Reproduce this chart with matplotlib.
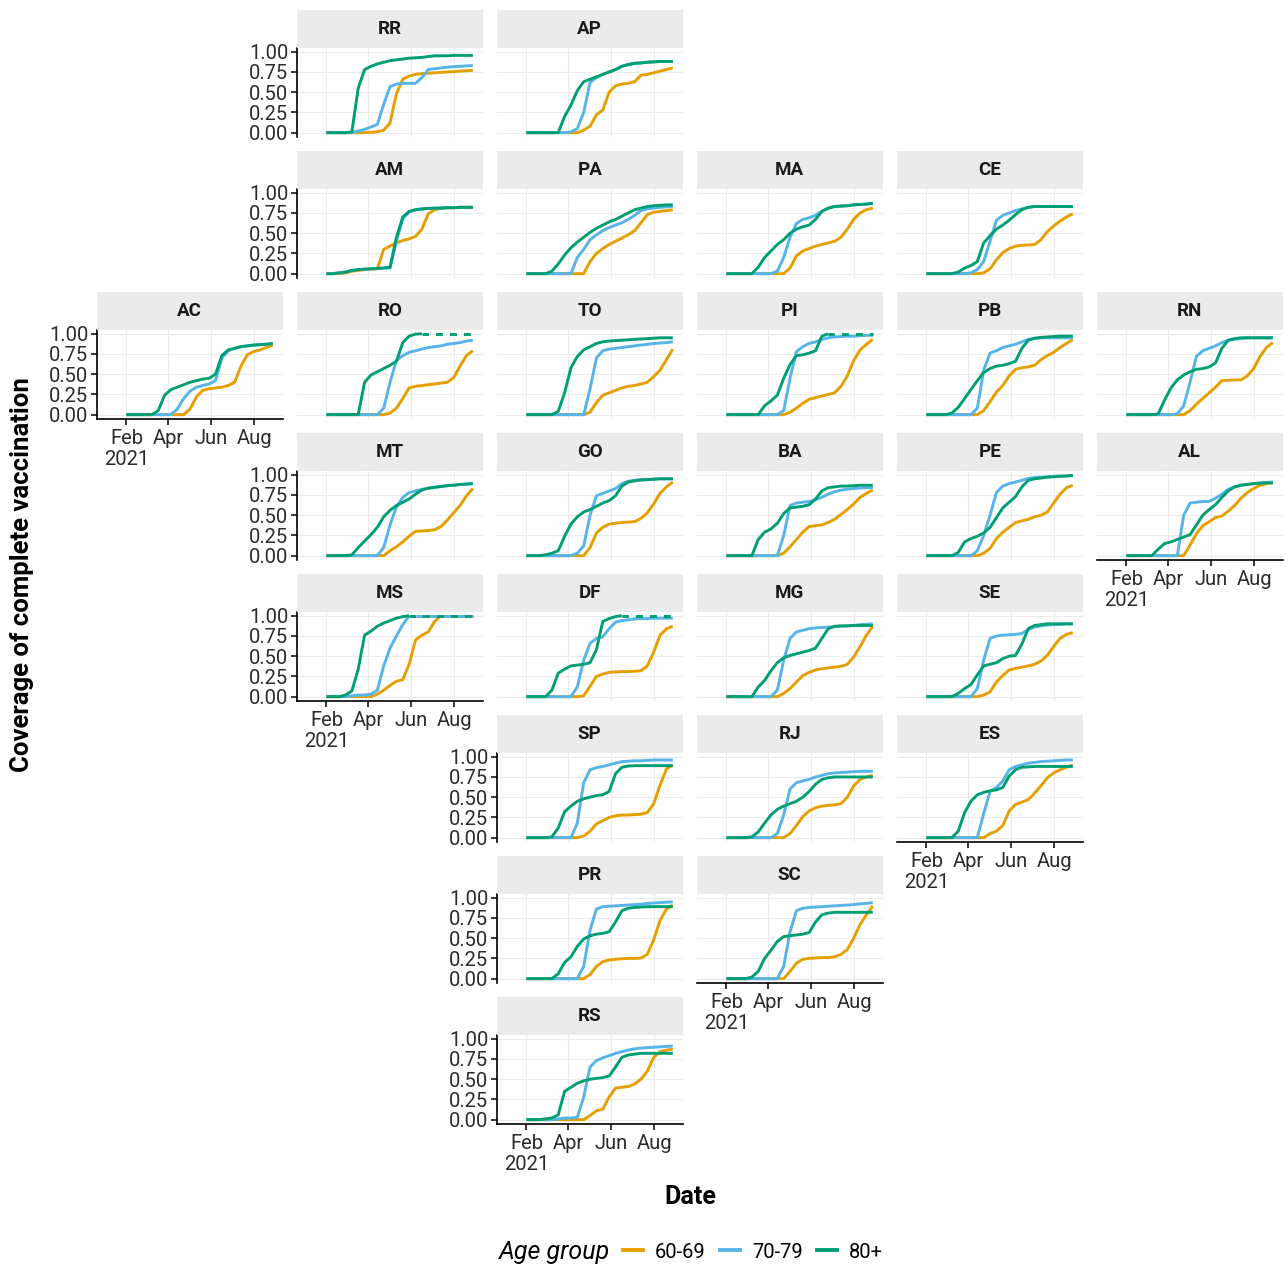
import numpy as np
import matplotlib
matplotlib.use("Agg")
import matplotlib.pyplot as plt
from matplotlib.lines import Line2D

plt.rcParams['font.family'] = ['Roboto', 'DejaVu Sans']

# sampling dates (every 9 days from 1 Feb 2021)
startDate = np.datetime64("2021-02-01")
dayOffsets = np.arange(0, 208, 9)
dates = startDate + dayOffsets.astype("timedelta64[D]")

ageGroups = ["60-69", "70-79", "80+"]
ageColors = ["#E69F00", "#56B4E9", "#009E73"]

cov60 = {
  "RR": [0,0,0,0,0,0,0,0.005,0.01,0.03,0.12,0.48,0.66,0.70,0.72,0.73,0.735,0.74,0.745,0.75,0.755,0.76,0.765,0.77],
  "AP": [0,0,0,0,0,0,0,0,0,0.03,0.08,0.22,0.28,0.50,0.58,0.60,0.61,0.63,0.71,0.72,0.74,0.76,0.78,0.80],
  "AM": [0,0,0,0.01,0.03,0.04,0.05,0.055,0.06,0.30,0.34,0.38,0.41,0.43,0.46,0.55,0.74,0.79,0.81,0.815,0.815,0.82,0.82,0.82],
  "PA": [0,0,0,0,0,0,0,0,0,0,0.15,0.25,0.31,0.36,0.40,0.44,0.48,0.53,0.63,0.73,0.76,0.77,0.78,0.79],
  "MA": [0,0,0,0,0,0,0,0,0,0,0.07,0.22,0.28,0.31,0.34,0.36,0.38,0.40,0.45,0.55,0.67,0.75,0.79,0.81],
  "CE": [0,0,0,0,0,0,0,0,0,0.01,0.06,0.17,0.26,0.31,0.34,0.35,0.355,0.36,0.42,0.52,0.59,0.65,0.70,0.74],
  "AC": [0,0,0,0,0,0,0,0,0,0,0.07,0.22,0.30,0.32,0.33,0.34,0.36,0.40,0.60,0.74,0.78,0.80,0.83,0.86],
  "RO": [0,0,0,0,0,0,0,0,0,0,0.02,0.08,0.20,0.33,0.35,0.36,0.37,0.38,0.39,0.40,0.46,0.60,0.73,0.79],
  "TO": [0,0,0,0,0,0,0,0,0,0,0.03,0.15,0.24,0.27,0.30,0.33,0.35,0.36,0.38,0.40,0.47,0.55,0.68,0.81],
  "PI": [0,0,0,0,0,0,0,0,0,0,0.03,0.08,0.14,0.19,0.21,0.23,0.25,0.27,0.35,0.48,0.67,0.80,0.87,0.93],
  "PB": [0,0,0,0,0,0,0,0,0,0.05,0.16,0.28,0.36,0.48,0.56,0.58,0.59,0.61,0.68,0.73,0.77,0.83,0.88,0.93],
  "RN": [0,0,0,0,0,0,0,0,0,0,0.05,0.13,0.20,0.27,0.34,0.42,0.425,0.43,0.43,0.48,0.57,0.72,0.83,0.89],
  "MT": [0,0,0,0,0,0,0,0,0,0,0.06,0.11,0.17,0.24,0.30,0.305,0.31,0.32,0.36,0.44,0.53,0.62,0.74,0.83],
  "GO": [0,0,0,0,0,0,0,0,0,0,0.10,0.28,0.35,0.39,0.40,0.41,0.415,0.42,0.46,0.53,0.64,0.77,0.85,0.91],
  "BA": [0,0,0,0,0,0,0,0,0,0.03,0.11,0.20,0.29,0.36,0.37,0.38,0.41,0.45,0.51,0.57,0.64,0.72,0.77,0.81],
  "PE": [0,0,0,0,0,0,0,0,0,0.03,0.09,0.21,0.29,0.35,0.41,0.43,0.45,0.48,0.50,0.54,0.65,0.76,0.84,0.87],
  "AL": [0,0,0,0,0,0,0,0,0,0,0.13,0.27,0.37,0.42,0.47,0.49,0.55,0.62,0.71,0.78,0.83,0.87,0.89,0.90],
  "MS": [0,0,0,0,0,0,0,0,0.03,0.08,0.14,0.19,0.21,0.40,0.70,0.76,0.80,0.93,1,1,1,1,1,1],
  "DF": [0,0,0,0,0,0,0,0,0,0.01,0.13,0.25,0.28,0.30,0.305,0.31,0.31,0.315,0.32,0.38,0.55,0.76,0.84,0.87],
  "MG": [0,0,0,0,0,0,0,0,0,0.04,0.10,0.18,0.26,0.30,0.33,0.345,0.355,0.365,0.375,0.40,0.49,0.62,0.76,0.87],
  "SE": [0,0,0,0,0,0,0,0,0,0.02,0.06,0.18,0.26,0.33,0.35,0.365,0.38,0.40,0.44,0.51,0.62,0.72,0.77,0.79],
  "SP": [0,0,0,0,0,0,0,0,0,0.02,0.08,0.17,0.21,0.25,0.27,0.28,0.28,0.285,0.29,0.31,0.42,0.65,0.85,0.90],
  "RJ": [0,0,0,0,0,0,0,0,0,0,0.05,0.15,0.26,0.33,0.37,0.39,0.40,0.405,0.42,0.50,0.64,0.72,0.75,0.77],
  "ES": [0,0,0,0,0,0,0,0,0,0,0.05,0.08,0.15,0.33,0.41,0.44,0.47,0.55,0.64,0.74,0.80,0.84,0.87,0.90],
  "PR": [0,0,0,0,0,0,0,0,0,0,0.05,0.15,0.21,0.23,0.24,0.245,0.25,0.25,0.255,0.30,0.48,0.72,0.86,0.91],
  "SC": [0,0,0,0,0,0,0,0,0,0,0.09,0.19,0.24,0.25,0.255,0.26,0.26,0.27,0.30,0.36,0.50,0.67,0.79,0.90],
  "RS": [0,0,0,0,0,0,0,0,0,0,0.05,0.11,0.13,0.28,0.39,0.40,0.41,0.44,0.50,0.60,0.77,0.84,0.86,0.87],
}

cov70 = {
  "RR": [0,0,0,0,0,0.02,0.04,0.07,0.10,0.35,0.57,0.60,0.61,0.61,0.61,0.68,0.78,0.79,0.80,0.81,0.815,0.82,0.825,0.83],
  "AP": [0,0,0,0,0,0,0,0.01,0.05,0.25,0.62,0.68,0.72,0.75,0.78,0.82,0.845,0.86,0.865,0.87,0.875,0.88,0.88,0.88],
  "AM": [0,0,0.01,0.02,0.04,0.05,0.055,0.06,0.065,0.07,0.07,0.40,0.68,0.76,0.79,0.80,0.805,0.81,0.81,0.815,0.815,0.82,0.82,0.82],
  "PA": [0,0,0,0,0,0,0,0,0.20,0.30,0.42,0.48,0.53,0.57,0.60,0.63,0.67,0.72,0.78,0.80,0.81,0.82,0.825,0.83],
  "MA": [0,0,0,0,0,0,0,0,0.03,0.20,0.45,0.62,0.67,0.69,0.72,0.77,0.81,0.83,0.835,0.84,0.85,0.855,0.86,0.87],
  "CE": [0,0,0,0,0,0,0,0.01,0.05,0.15,0.40,0.66,0.72,0.75,0.78,0.80,0.82,0.83,0.83,0.83,0.83,0.83,0.83,0.83],
  "AC": [0,0,0,0,0,0,0,0,0.07,0.20,0.29,0.34,0.36,0.38,0.42,0.70,0.79,0.82,0.84,0.85,0.86,0.865,0.87,0.88],
  "RO": [0,0,0,0,0,0,0,0,0,0.08,0.40,0.67,0.73,0.77,0.79,0.81,0.83,0.84,0.85,0.87,0.88,0.89,0.91,0.92],
  "TO": [0,0,0,0,0,0,0,0,0,0,0.32,0.70,0.79,0.81,0.82,0.83,0.84,0.85,0.86,0.87,0.88,0.885,0.89,0.90],
  "PI": [0,0,0,0,0,0,0,0,0,0.05,0.45,0.78,0.84,0.88,0.90,0.93,0.95,0.96,0.965,0.97,0.97,0.975,0.98,0.98],
  "PB": [0,0,0,0,0,0,0,0,0.08,0.55,0.76,0.79,0.83,0.85,0.87,0.90,0.93,0.94,0.95,0.95,0.95,0.95,0.95,0.95],
  "RN": [0,0,0,0,0,0,0,0,0.01,0.11,0.40,0.72,0.79,0.82,0.85,0.89,0.92,0.93,0.94,0.95,0.95,0.95,0.95,0.95],
  "MT": [0,0,0,0,0,0,0,0,0,0.10,0.38,0.60,0.72,0.78,0.80,0.82,0.83,0.845,0.855,0.865,0.87,0.88,0.885,0.89],
  "GO": [0,0,0,0,0,0,0,0,0.03,0.12,0.50,0.74,0.77,0.80,0.83,0.89,0.92,0.93,0.94,0.94,0.945,0.95,0.95,0.95],
  "BA": [0,0,0,0,0,0,0,0,0,0.25,0.62,0.65,0.66,0.67,0.69,0.72,0.76,0.79,0.81,0.82,0.83,0.835,0.84,0.84],
  "PE": [0,0,0,0,0,0,0,0,0.06,0.25,0.50,0.78,0.86,0.89,0.91,0.93,0.955,0.965,0.97,0.975,0.98,0.985,0.985,0.99],
  "AL": [0,0,0,0,0,0,0,0,0,0.50,0.65,0.66,0.67,0.67,0.71,0.76,0.82,0.85,0.87,0.88,0.89,0.90,0.905,0.91],
  "MS": [0,0,0,0,0.01,0.02,0.02,0.03,0.08,0.38,0.60,0.75,0.89,1,1,1,1,1,1,1,1,1,1,1],
  "DF": [0,0,0,0,0,0,0,0,0.12,0.45,0.66,0.72,0.74,0.84,0.92,0.94,0.95,0.96,0.965,0.965,0.97,0.97,0.97,0.97],
  "MG": [0,0,0,0,0,0,0,0,0.08,0.45,0.72,0.80,0.82,0.84,0.85,0.855,0.86,0.865,0.87,0.875,0.88,0.89,0.895,0.90],
  "SE": [0,0,0,0,0,0,0,0,0.10,0.45,0.72,0.75,0.76,0.765,0.77,0.78,0.83,0.86,0.875,0.885,0.89,0.895,0.90,0.90],
  "SP": [0,0,0,0,0,0,0,0,0.18,0.68,0.84,0.865,0.88,0.90,0.92,0.94,0.945,0.95,0.95,0.955,0.96,0.96,0.96,0.96],
  "RJ": [0,0,0,0,0,0,0,0,0.05,0.28,0.60,0.68,0.70,0.72,0.75,0.77,0.79,0.80,0.805,0.81,0.815,0.82,0.82,0.82],
  "ES": [0,0,0,0,0,0,0,0,0,0.30,0.57,0.62,0.70,0.84,0.88,0.90,0.92,0.93,0.94,0.945,0.95,0.955,0.96,0.96],
  "PR": [0,0,0,0,0,0,0,0,0,0.15,0.60,0.86,0.89,0.895,0.90,0.905,0.91,0.915,0.92,0.93,0.935,0.94,0.945,0.95],
  "SC": [0,0,0,0,0,0,0,0,0,0.15,0.58,0.84,0.87,0.88,0.885,0.89,0.895,0.90,0.905,0.91,0.915,0.925,0.93,0.94],
  "RS": [0,0,0,0,0,0.01,0.02,0.02,0.03,0.28,0.65,0.73,0.765,0.79,0.82,0.84,0.86,0.875,0.885,0.89,0.895,0.90,0.905,0.91],
}

cov80 = {
  "RR": [0,0,0,0,0.01,0.55,0.78,0.82,0.85,0.87,0.89,0.90,0.91,0.92,0.925,0.93,0.94,0.95,0.95,0.95,0.955,0.955,0.955,0.955],
  "AP": [0,0,0,0,0,0,0.20,0.34,0.52,0.63,0.66,0.69,0.72,0.75,0.78,0.82,0.84,0.855,0.86,0.87,0.875,0.88,0.88,0.88],
  "AM": [0,0,0.01,0.02,0.04,0.05,0.055,0.06,0.065,0.07,0.08,0.45,0.70,0.77,0.79,0.80,0.805,0.81,0.81,0.815,0.815,0.82,0.82,0.82],
  "PA": [0,0,0,0,0.03,0.12,0.23,0.32,0.39,0.45,0.51,0.56,0.60,0.64,0.67,0.71,0.75,0.79,0.81,0.83,0.84,0.845,0.85,0.85],
  "MA": [0,0,0,0,0,0.08,0.20,0.28,0.36,0.42,0.50,0.55,0.58,0.60,0.67,0.77,0.81,0.83,0.835,0.84,0.85,0.855,0.86,0.87],
  "CE": [0,0,0,0,0,0.02,0.07,0.10,0.15,0.38,0.47,0.55,0.60,0.66,0.73,0.79,0.82,0.83,0.83,0.83,0.83,0.83,0.83,0.83],
  "AC": [0,0,0,0,0,0.05,0.24,0.31,0.34,0.37,0.40,0.42,0.44,0.45,0.50,0.73,0.80,0.82,0.84,0.85,0.86,0.865,0.87,0.88],
  "RO": [0,0,0,0,0,0,0.40,0.49,0.53,0.57,0.61,0.66,0.89,0.97,0.995,1,1,1,1,1,1,1,1,1],
  "TO": [0,0,0,0,0,0.04,0.27,0.58,0.72,0.80,0.84,0.88,0.90,0.91,0.915,0.92,0.925,0.93,0.935,0.94,0.945,0.95,0.95,0.95],
  "PI": [0,0,0,0,0,0,0.11,0.17,0.24,0.45,0.62,0.73,0.74,0.76,0.79,0.97,1,1,1,1,1,1,1,1],
  "PB": [0,0,0,0,0.02,0.09,0.20,0.31,0.42,0.52,0.57,0.60,0.61,0.63,0.66,0.82,0.92,0.945,0.955,0.96,0.965,0.97,0.97,0.97],
  "RN": [0,0,0,0,0,0.01,0.18,0.33,0.43,0.49,0.53,0.56,0.57,0.59,0.64,0.82,0.92,0.94,0.95,0.95,0.95,0.95,0.95,0.95],
  "MT": [0,0,0,0,0.01,0.10,0.18,0.26,0.35,0.48,0.56,0.62,0.66,0.70,0.76,0.81,0.835,0.845,0.855,0.865,0.87,0.88,0.885,0.89],
  "GO": [0,0,0,0.01,0.03,0.06,0.24,0.39,0.48,0.54,0.57,0.61,0.65,0.68,0.74,0.86,0.91,0.925,0.935,0.94,0.945,0.95,0.95,0.95],
  "BA": [0,0,0,0,0,0.20,0.29,0.33,0.40,0.52,0.59,0.60,0.61,0.63,0.70,0.80,0.84,0.85,0.86,0.86,0.865,0.87,0.87,0.87],
  "PE": [0,0,0,0,0,0.04,0.17,0.21,0.24,0.28,0.35,0.47,0.59,0.66,0.73,0.85,0.93,0.95,0.96,0.97,0.975,0.98,0.985,0.99],
  "AL": [0,0,0,0,0,0.08,0.15,0.17,0.20,0.23,0.26,0.38,0.50,0.57,0.63,0.72,0.80,0.85,0.87,0.88,0.89,0.895,0.90,0.90],
  "MS": [0,0,0,0.02,0.07,0.34,0.76,0.81,0.87,0.91,0.94,0.97,0.99,1,1,1,1,1,1,1,1,1,1,1],
  "DF": [0,0,0,0,0.08,0.29,0.34,0.38,0.39,0.40,0.42,0.58,0.93,0.965,0.99,1,1,1,1,1,1,1,1,1],
  "MG": [0,0,0,0,0,0.12,0.20,0.32,0.42,0.48,0.51,0.53,0.55,0.57,0.60,0.72,0.84,0.87,0.875,0.875,0.88,0.88,0.88,0.88],
  "SE": [0,0,0,0,0,0.04,0.10,0.15,0.27,0.38,0.40,0.42,0.47,0.50,0.51,0.65,0.84,0.88,0.89,0.90,0.90,0.90,0.90,0.90],
  "SP": [0,0,0,0,0.01,0.12,0.32,0.39,0.45,0.48,0.50,0.52,0.53,0.57,0.79,0.87,0.885,0.89,0.89,0.89,0.89,0.89,0.89,0.89],
  "RJ": [0,0,0,0,0.01,0.07,0.18,0.28,0.35,0.39,0.42,0.45,0.50,0.57,0.66,0.72,0.74,0.75,0.75,0.75,0.75,0.75,0.75,0.75],
  "ES": [0,0,0,0,0,0.08,0.31,0.45,0.53,0.56,0.58,0.59,0.62,0.76,0.84,0.87,0.875,0.88,0.88,0.88,0.88,0.88,0.88,0.88],
  "PR": [0,0,0,0,0,0.06,0.20,0.27,0.40,0.49,0.53,0.55,0.56,0.58,0.70,0.84,0.87,0.88,0.885,0.89,0.89,0.89,0.89,0.89],
  "SC": [0,0,0,0,0.02,0.09,0.25,0.35,0.46,0.52,0.53,0.54,0.55,0.57,0.70,0.79,0.81,0.82,0.82,0.82,0.82,0.82,0.82,0.82],
  "RS": [0,0,0,0.01,0.02,0.06,0.35,0.40,0.45,0.48,0.50,0.51,0.52,0.54,0.65,0.77,0.80,0.81,0.82,0.82,0.82,0.82,0.82,0.82],
}

# geofacet grid (row, col)
gridPos = {
  "RR": (0, 1), "AP": (0, 2),
  "AM": (1, 1), "PA": (1, 2), "MA": (1, 3), "CE": (1, 4),
  "AC": (2, 0), "RO": (2, 1), "TO": (2, 2), "PI": (2, 3), "PB": (2, 4), "RN": (2, 5),
  "MT": (3, 1), "GO": (3, 2), "BA": (3, 3), "PE": (3, 4), "AL": (3, 5),
  "MS": (4, 1), "DF": (4, 2), "MG": (4, 3), "SE": (4, 4),
  "SP": (5, 2), "RJ": (5, 3), "ES": (5, 4),
  "PR": (6, 2), "SC": (6, 3),
  "RS": (7, 2),
}

W, H = 1288, 1270
fig = plt.figure(figsize=(W / 100, H / 100), dpi=100)

xTicks = [np.datetime64(d) for d in ["2021-02-01", "2021-04-01", "2021-06-01", "2021-08-01"]]
xTickLabels = ["Feb\n2021", "Apr", "Jun", "Aug"]
xMin = np.datetime64("2020-12-21")
xMax = np.datetime64("2021-09-10")
occupied = set(gridPos.values())
dashOffsets = [0, 2.5, 5]


def drawSeries(ax, vals, color, offset):
  vals = np.array(vals, dtype=float)
  capped = np.where(vals >= 1.0)[0]
  if len(capped) == 0:
    ax.plot(dates, vals, color=color, lw=2.1, solid_capstyle="butt")
    return
  k = capped[0]
  ax.plot(dates[:k + 1], vals[:k + 1], color=color, lw=2.1, solid_capstyle="butt")
  ax.plot(dates[k:], vals[k:], color=color, lw=2.1, ls=(offset, (2.4, 2.4)))


for state, (r, c) in gridPos.items():
  left = 96.7 + 200 * c
  stripTop = 10 + 141 * r
  stripH = 37.7
  axH = 89
  ax = fig.add_axes([left / W, 1 - (stripTop + stripH + axH) / H, 186 / W, axH / H])
  strip = fig.add_axes([left / W, 1 - (stripTop + stripH) / H, 186 / W, stripH / H])
  strip.set_facecolor("#ebebeb")
  strip.set_xticks([])
  strip.set_yticks([])
  for s in strip.spines.values():
    s.set_visible(False)
  strip.text(0.5, 0.5, state, ha="center", va="center", fontsize=13.5, fontweight="bold",
             color="#1a1a1a", transform=strip.transAxes)

  for vals, color, off in zip([cov60[state], cov70[state], cov80[state]], ageColors, dashOffsets):
    drawSeries(ax, vals, color, off)

  ax.set_xlim(xMin, xMax)
  ax.set_ylim(-0.05, 1.05)
  ax.set_xticks(xTicks)
  ax.set_xticklabels(xTickLabels, linespacing=1.15)
  ax.set_yticks([0, 0.25, 0.5, 0.75, 1.0])
  ax.set_yticklabels(["0.00", "0.25", "0.50", "0.75", "1.00"])
  ax.grid(True, color="#ebebeb", lw=0.8)
  ax.set_axisbelow(True)
  for s in ax.spines.values():
    s.set_visible(False)
  ax.tick_params(length=4, width=1.1, color="black", labelsize=14.5, labelcolor="#2b2b2b")
  ax.tick_params(axis="y", pad=2)
  ax.tick_params(axis="x", pad=3.5)

  showY = (r, c - 1) not in occupied
  showX = (r + 1, c) not in occupied
  if showY:
    ax.spines["left"].set_visible(True)
    ax.spines["left"].set_linewidth(1.2)
  else:
    ax.tick_params(left=False, labelleft=False)
  if showX:
    ax.spines["bottom"].set_visible(True)
    ax.spines["bottom"].set_linewidth(1.2)
  else:
    ax.tick_params(bottom=False, labelbottom=False)

fig.text(22 / W, 1 - 575 / H, "Coverage of complete vaccination", rotation=90,
         ha="center", va="center", fontsize=18.5, fontweight="bold")
fig.text(690 / W, 1 - 1197 / H, "Date", ha="center", va="center", fontsize=18, fontweight="bold")

fig.text(499 / W, 1 - 1252 / H, "Age group", ha="left", va="center", fontsize=18, style="italic")
handles = [Line2D([0], [0], color=col, lw=2.8) for col in ageColors]
fig.legend(handles, ageGroups, loc="center left", bbox_to_anchor=(623 / W, 1 - 1252 / H),
           ncol=3, frameon=False, fontsize=14.5, handlelength=1.0, handletextpad=0.6,
           columnspacing=0.7, borderpad=0, borderaxespad=0)

fig.savefig("out.png", dpi=100)
